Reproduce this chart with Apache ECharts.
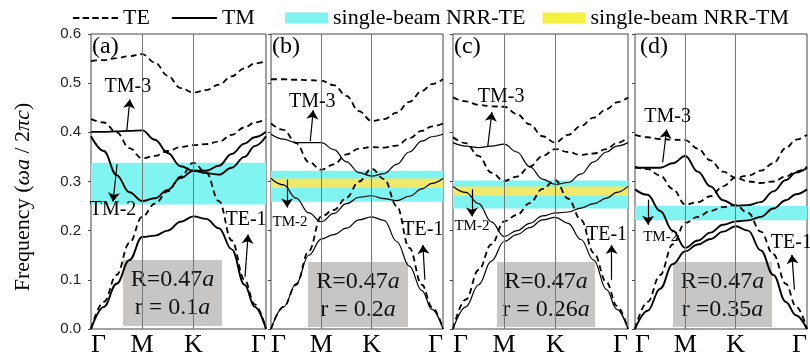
<!DOCTYPE html>
<html>
<head>
<meta charset="utf-8">
<script src="https://cdn.jsdelivr.net/npm/echarts@6/dist/echarts.min.js"></script>
<style>
html, body { margin: 0; padding: 0; background: #fff; }
#chart { width: 810px; height: 359px; }
</style>
</head>
<body>
<div id="chart"></div>
<script>
// k path: Γ -> M -> K -> Γ (K-Γ segment drawn longer, as in the figure)
const kPath = [0, 0.25, 0.5, 0.75, 1, 1.25, 1.5, 1.75, 2, 2.25, 2.5, 2.75, 3, 3.2, 3.42]
const kTicks = [0, 1, 2, 3.42]
const kLabels = ['Γ', 'M', 'K', 'Γ']
const freqTicks = [0, 0.1, 0.2, 0.3, 0.4, 0.5, 0.6]

// (a) r = 0.1a
const teA1 = [0, 0.055, 0.11, 0.175, 0.228, 0.255, 0.28, 0.31, 0.338, 0.318, 0.26, 0.18, 0.1, 0.05, 0]
const teA2 = [0.427, 0.42, 0.4, 0.368, 0.347, 0.352, 0.362, 0.37, 0.374, 0.376, 0.381, 0.395, 0.41, 0.42, 0.427]
const teA3 = [0.545, 0.547, 0.551, 0.555, 0.559, 0.542, 0.515, 0.49, 0.481, 0.486, 0.497, 0.514, 0.53, 0.54, 0.545]
const tmA1 = [0, 0.045, 0.092, 0.14, 0.187, 0.19, 0.2, 0.218, 0.229, 0.224, 0.205, 0.162, 0.09, 0.045, 0]
const tmA2 = [0.392, 0.362, 0.313, 0.278, 0.26, 0.266, 0.283, 0.307, 0.322, 0.317, 0.314, 0.328, 0.35, 0.372, 0.392]
const tmA3 = [0.401, 0.401, 0.402, 0.403, 0.404, 0.385, 0.358, 0.331, 0.322, 0.322, 0.332, 0.356, 0.377, 0.39, 0.401]

// (b) r = 0.2a
const teB1 = [0, 0.045, 0.09, 0.158, 0.229, 0.242, 0.267, 0.3, 0.326, 0.305, 0.25, 0.165, 0.09, 0.045, 0]
const teB2 = [0.418, 0.405, 0.378, 0.34, 0.324, 0.335, 0.355, 0.367, 0.37, 0.369, 0.373, 0.388, 0.403, 0.412, 0.418]
const teB3 = [0.508, 0.508, 0.507, 0.506, 0.505, 0.496, 0.474, 0.443, 0.423, 0.427, 0.44, 0.462, 0.484, 0.498, 0.508]
const tmB1 = [0, 0.045, 0.092, 0.15, 0.183, 0.192, 0.205, 0.222, 0.228, 0.221, 0.178, 0.128, 0.078, 0.04, 0]
const tmB2 = [0.306, 0.293, 0.266, 0.236, 0.218, 0.235, 0.255, 0.268, 0.271, 0.265, 0.261, 0.27, 0.285, 0.296, 0.306]
const tmB3 = [0.396, 0.386, 0.379, 0.379, 0.379, 0.365, 0.34, 0.318, 0.311, 0.316, 0.335, 0.36, 0.382, 0.391, 0.396]

// (c) r = 0.26a
const teC1 = [0, 0.06, 0.12, 0.172, 0.219, 0.232, 0.256, 0.285, 0.303, 0.265, 0.222, 0.155, 0.095, 0.047, 0]
const teC2 = [0.39, 0.378, 0.352, 0.318, 0.301, 0.31, 0.33, 0.352, 0.366, 0.36, 0.354, 0.357, 0.366, 0.378, 0.39]
const teC3 = [0.471, 0.463, 0.456, 0.453, 0.452, 0.437, 0.416, 0.392, 0.379, 0.395, 0.413, 0.43, 0.447, 0.461, 0.471]
const tmC1 = [0, 0.045, 0.09, 0.138, 0.178, 0.192, 0.206, 0.222, 0.227, 0.215, 0.182, 0.14, 0.08, 0.04, 0]
const tmC2 = [0.29, 0.278, 0.255, 0.218, 0.188, 0.2, 0.215, 0.23, 0.236, 0.238, 0.246, 0.255, 0.266, 0.278, 0.29]
const tmC3 = [0.379, 0.372, 0.369, 0.372, 0.376, 0.36, 0.33, 0.305, 0.294, 0.298, 0.315, 0.34, 0.36, 0.372, 0.379]

// (d) r = 0.35a
const teD1 = [0, 0.055, 0.11, 0.172, 0.216, 0.228, 0.24, 0.248, 0.252, 0.236, 0.198, 0.152, 0.092, 0.046, 0]
const teD2 = [0.33, 0.325, 0.312, 0.285, 0.253, 0.258, 0.27, 0.29, 0.308, 0.3, 0.297, 0.3, 0.31, 0.32, 0.33]
const teD3 = [0.395, 0.39, 0.386, 0.385, 0.384, 0.367, 0.343, 0.32, 0.308, 0.312, 0.322, 0.337, 0.368, 0.385, 0.395]
const tmD1 = [0, 0.037, 0.082, 0.132, 0.158, 0.172, 0.183, 0.198, 0.209, 0.2, 0.16, 0.11, 0.055, 0.028, 0]
const tmD2 = [0.284, 0.273, 0.24, 0.2, 0.165, 0.18, 0.196, 0.212, 0.219, 0.221, 0.228, 0.245, 0.262, 0.274, 0.284]
const tmD3 = [0.328, 0.328, 0.328, 0.337, 0.352, 0.32, 0.29, 0.262, 0.251, 0.252, 0.258, 0.28, 0.303, 0.318, 0.328]

// single-beam NRR frequency windows [low, high]
const nrrTE = [[0.253, 0.338], [0.259, 0.322], [0.245, 0.302], [0.221, 0.25]]
const nrrTM = [null, [0.287, 0.306], [0.271, 0.29], null]

const rValues = ['0.1', '0.2', '0.26', '0.35']
const rSpacing = [' = ', ' = ', ' = ', ' =']
const panelTags = ['(a)', '(b)', '(c)', '(d)']

const teBands = [[teA1, teA2, teA3], [teB1, teB2, teB3], [teC1, teC2, teC3], [teD1, teD2, teD3]]
const tmBands = [[tmA1, tmA2, tmA3], [tmB1, tmB2, tmB3], [tmC1, tmC2, tmC3], [tmD1, tmD2, tmD3]]

// layout
const gridLeft = [91, 271, 453, 635]
const gridWidth = [175, 172, 175, 173]
const tmWidth = [1.9, 1.2, 1.2, 1.9]
const boxes = [[123, 260, 99, 66], [308, 262, 100, 65], [497, 262, 98, 65], [673, 262, 99, 65]]

// annotation arrows: label position, arrow tail, arrow head (in k / frequency)
const notes = [
    [
        { text: 'TM-3', at: [0.72, 0.492], from: [0.70, 0.404], to: [0.76, 0.467], size: 20 },
        { text: 'TM-2', at: [0.43, 0.243], from: [0.51, 0.335], to: [0.43, 0.259], size: 20 },
        { text: 'TE-1', at: [3.03, 0.222], from: [3.01, 0.106], to: [3.07, 0.192], size: 20 }
    ],
    [
        { text: 'TM-3', at: [0.82, 0.463], from: [0.78, 0.382], to: [0.84, 0.445], size: 20 },
        { text: 'TM-2', at: [0.38, 0.218], from: [0.32, 0.304], to: [0.32, 0.247], size: 15 },
        { text: 'TE-1', at: [3.02, 0.202], from: [3.06, 0.1], to: [3.02, 0.171], size: 20 }
    ],
    [
        { text: 'TM-3', at: [0.94, 0.473], from: [0.68, 0.372], to: [0.76, 0.441], size: 20 },
        { text: 'TM-2', at: [0.37, 0.21], from: [0.37, 0.284], to: [0.37, 0.229], size: 15 },
        { text: 'TE-1', at: [3.0, 0.192], from: [3.1, 0.1], to: [3.1, 0.171], size: 20 }
    ],
    [
        { text: 'TM-3', at: [0.65, 0.431], from: [0.55, 0.339], to: [0.63, 0.406], size: 20 },
        { text: 'TM-2', at: [0.51, 0.186], from: [0.26, 0.263], to: [0.26, 0.212], size: 15 },
        { text: 'TE-1', at: [3.11, 0.176], from: [3.17, 0.08], to: [3.12, 0.151], size: 20 }
    ]
]

const serif = 'Liberation Serif'
const cyan = '#80f4f0'
const yellow = '#f0e86a'
// legend glyphs: dashed and solid strokes
const dashIcon = 'path://M0,0h6v2h-6z M9,0h6v2h-6z M18,0h6v2h-6z M27,0h6v2h-6z M36,0h6v2h-6z'
const solidIcon = 'path://M0,0h45v2.2h-45z'

let toPoints = vals => kPath.map((k, j) => [k, vals[j]])

let grids = [], xAxes = [], yAxes = [], series = [], graphics = []

for (let i = 0; i < 4; i++) {
    grids.push({
        left: gridLeft[i], width: gridWidth[i], top: 34, height: 295,
        show: true, borderColor: '#444', borderWidth: 1, backgroundColor: 'transparent'
    })
    xAxes.push({
        type: 'value', gridIndex: i, min: 0, max: kTicks[kTicks.length - 1],
        axisLine: { show: false }, splitLine: { show: false },
        axisTick: { show: false },
        axisLabel: {
            customValues: kTicks,
            formatter: v => kLabels[kTicks.indexOf(v)],
            alignMinLabel: 'left', alignMaxLabel: 'right',
            fontFamily: serif, fontSize: 26, color: '#000', margin: 3
        }
    })
    yAxes.push({
        type: 'value', gridIndex: i, min: 0, max: 0.6, interval: 0.1,
        axisLine: { show: false }, splitLine: { show: false },
        axisTick: { show: true, length: 3, lineStyle: { color: '#444' } },
        axisLabel: {
            show: i === 0, formatter: v => v.toFixed(1),
            fontFamily: 'Liberation Sans', fontSize: 15, color: '#222', margin: 10
        }
    })

    // NRR windows
    series.push({
        type: 'line', name: 'single-beam NRR-TE', xAxisIndex: i, yAxisIndex: i, data: [],
        itemStyle: { color: cyan }, lineStyle: { color: cyan }, z: 1, silent: true,
        markArea: { silent: true, itemStyle: { color: cyan }, data: [[{ yAxis: nrrTE[i][0] }, { yAxis: nrrTE[i][1] }]] }
    })
    series.push({
        type: 'line', name: 'single-beam NRR-TM', xAxisIndex: i, yAxisIndex: i, data: [],
        itemStyle: { color: yellow }, lineStyle: { color: yellow }, z: 2, silent: true,
        markArea: nrrTM[i] ? { silent: true, itemStyle: { color: yellow }, data: [[{ yAxis: nrrTM[i][0] }, { yAxis: nrrTM[i][1] }]] } : undefined
    })
    // M and K guide lines
    series.push({
        type: 'line', xAxisIndex: i, yAxisIndex: i, data: [], z: 3, silent: true,
        markLine: {
            silent: true, symbol: 'none', label: { show: false },
            lineStyle: { color: '#777', width: 1, type: 'solid' },
            data: [{ xAxis: kTicks[1] }, { xAxis: kTicks[2] }]
        }
    })

    teBands[i].forEach(vals => series.push({
        type: 'line', name: 'TE', xAxisIndex: i, yAxisIndex: i, data: toPoints(vals),
        smooth: 0.4, smoothMonotone: 'x', symbol: 'none', z: 4,
        lineStyle: { color: '#000', width: 1.8, type: [6, 4] }, itemStyle: { color: '#000' }
    }))
    tmBands[i].forEach(vals => series.push({
        type: 'line', name: 'TM', xAxisIndex: i, yAxisIndex: i, data: toPoints(vals),
        smooth: 0.4, smoothMonotone: 'x', symbol: 'none', z: 4,
        lineStyle: { color: '#000', width: tmWidth[i], type: 'solid' }, itemStyle: { color: '#000' }
    }))

    // band labels with arrows
    series.push({
        type: 'line', xAxisIndex: i, yAxisIndex: i, data: [], z: 6, silent: true,
        markLine: {
            silent: true, symbol: ['none', 'arrow'], symbolSize: 9, label: { show: false },
            lineStyle: { color: '#000', width: 1.2, type: 'solid' },
            data: notes[i].map(n => [{ coord: n.from }, { coord: n.to }])
        },
        markPoint: {
            silent: true, symbol: 'circle', symbolSize: 0,
            label: { show: true, position: 'inside', color: '#000', fontFamily: serif, formatter: p => p.name },
            data: notes[i].map(n => ({ name: n.text, coord: n.at, label: { fontSize: n.size } }))
        }
    })

    graphics.push({
        type: 'text', left: gridLeft[i] + (i === 3 ? 5 : 1), top: 35, z: 10,
        style: { text: panelTags[i], fontFamily: serif, fontSize: 24, fill: '#000' }
    })
    let [bx, by, bw, bh] = boxes[i]
    graphics.push({
        type: 'group', x: bx, y: by, z: 10,
        children: [
            { type: 'rect', shape: { x: 0, y: 0, width: bw, height: bh }, style: { fill: '#c8c6c4' } },
            {
                type: 'text', x: bw / 2, y: bh / 2 + 1,
                style: {
                    text: 'R=0.47{i|a}\nr' + rSpacing[i] + rValues[i] + '{i|a}',
                    rich: { i: { fontStyle: 'italic', fontFamily: serif, fontSize: 24 } },
                    fontFamily: serif, fontSize: 24, lineHeight: 28, fill: '#111',
                    align: 'center', verticalAlign: 'middle'
                }
            }
        ]
    })
}

graphics.push({
    type: 'text', x: 23, y: 197, rotation: Math.PI / 2, z: 10,
    style: {
        text: 'Frequency ({i|ωa} / 2{i|πc})',
        rich: { i: { fontStyle: 'italic', fontFamily: serif, fontSize: 22 } },
        fontFamily: serif, fontSize: 22, fill: '#000', align: 'center', verticalAlign: 'middle'
    }
})

let legendText = { fontFamily: serif, fontSize: 22, color: '#000' }

let chart = echarts.init(document.getElementById('chart'))
chart.setOption({
    animation: false,
    backgroundColor: '#fff',
    legend: [
        {
            left: 68, top: 2, itemWidth: 45, itemHeight: 11, itemGap: 22, textStyle: legendText,
            data: [
                { name: 'TE', icon: dashIcon, itemStyle: { color: '#000' } },
                { name: 'TM', icon: solidIcon, itemStyle: { color: '#000' } }
            ]
        },
        {
            left: 280, top: 2, itemWidth: 43, itemHeight: 11, itemGap: 17, textStyle: legendText,
            data: [
                { name: 'single-beam NRR-TE', icon: 'rect', itemStyle: { color: cyan } },
                { name: 'single-beam NRR-TM', icon: 'rect', itemStyle: { color: '#f2f040' } }
            ]
        }
    ],
    grid: grids,
    xAxis: xAxes,
    yAxis: yAxes,
    series: series,
    graphic: graphics
})
</script>
</body>
</html>
